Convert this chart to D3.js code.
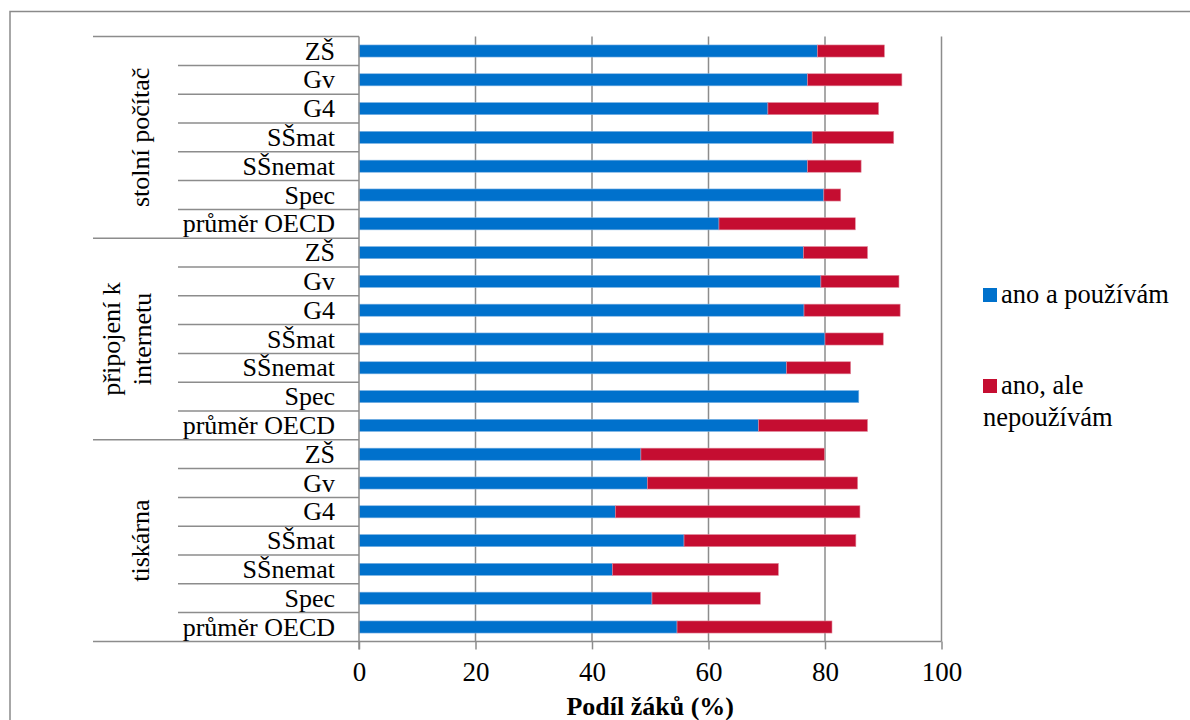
<!DOCTYPE html>
<html><head><meta charset="utf-8">
<script src="https://cdn.jsdelivr.net/npm/d3@7"></script>
<style>
html,body{margin:0;padding:0;background:#fff;}
svg{display:block;}
svg text{font-family:'Liberation Serif','Tinos','Times New Roman','DejaVu Serif',serif;}
</style></head>
<body><svg id="c" width="1190" height="720"></svg>
<script>
const groups = ["stolní počítač", "připojení k internetu", "tiskárna"];
const categories = ["ZŠ", "Gv", "G4", "SŠmat", "SŠnemat", "Spec", "průměr OECD"];
const seriesNames = ["ano a používám", "ano, ale nepoužívám"];
const anoPouzivam = [78.7, 77.0, 70.2, 77.8, 77.0, 79.8, 61.8,
                     76.3, 79.3, 76.4, 80.0, 73.4, 85.8, 68.6,
                     48.4, 49.5, 44.0, 55.8, 43.5, 50.3, 54.6];
const anoNepouzivam = [11.5, 16.2, 19.0, 14.0, 9.2, 2.9, 23.4,
                       11.0, 13.4, 16.5, 10.0, 11.0, 0.0, 18.7,
                       31.5, 36.1, 42.0, 29.5, 28.5, 18.6, 26.6];
const xTicks = [0, 20, 40, 60, 80, 100];
const axisTitle = "Podíl žáků (%)";
const colors = ["#0071CC", "#C50D31"];

(function () {
const FONT = "'Liberation Serif', 'Tinos', 'Times New Roman', 'DejaVu Serif', serif";
const FS = 26;
const rows = [];
groups.forEach((g, gi) => categories.forEach((c, ci) => {
  const i = gi * categories.length + ci;
  rows.push({key: i, group: g, cat: c, s0: anoPouzivam[i], s1: anoNepouzivam[i]});
}));

const svg = d3.select("#c");
const pL = 359, pR = 941.5, pT = 36.6, pB = 641.4;
const x = d3.scaleLinear().domain([0, 100]).range([pL, pR]);
const y = d3.scaleBand().domain(rows.map(r => r.key)).range([pT, pB]).paddingInner(0.58).paddingOuter(0.29);
const step = y.step();
const rowTop = k => pT + k * step;

// outer border
svg.append("rect").attr("x", 10).attr("y", 11.5).attr("width", 1200).attr("height", 800)
  .attr("fill", "none").attr("stroke", "#8a8a8a").attr("stroke-width", 1.5);

// gridlines
svg.append("g").selectAll("line").data(xTicks.filter(t => t > 0)).join("line")
  .attr("x1", d => x(d)).attr("x2", d => x(d)).attr("y1", pT).attr("y2", pB)
  .attr("stroke", "#8c8c8c").attr("stroke-width", 1.5);

// x axis
const xAxis = svg.append("g").attr("transform", `translate(0,${pB})`)
  .call(d3.axisBottom(x).tickValues(xTicks).tickSize(8).tickPadding(12).tickFormat(d3.format("d")));
xAxis.attr("font-family", FONT).attr("font-size", 27);
xAxis.select(".domain").attr("stroke", "#8c8c8c").attr("stroke-width", 1.5).attr("d", `M${pL},0H${pR}`);
xAxis.selectAll(".tick line").attr("stroke", "#8c8c8c").attr("stroke-width", 1.5);
xAxis.selectAll(".tick text").attr("font-size", 27).attr("fill", "#000").attr("font-family", FONT);

// bars via stack
const stack = d3.stack().keys(["s0", "s1"])(rows);
svg.append("g").selectAll("g").data(stack).join("g")
  .attr("fill", (d, i) => colors[i])
  .attr("stroke", (d, i) => i === 0 ? "#7fb3e3" : "#e08a9c").attr("stroke-width", 0.6)
  .selectAll("rect").data(d => d.filter(p => p[1] - p[0] > 0)).join("rect")
  .attr("x", d => x(d[0])).attr("width", d => x(d[1]) - x(d[0]))
  .attr("y", d => y(d.data.key)).attr("height", y.bandwidth());

// category axis: vertical line
svg.append("line").attr("x1", pL).attr("x2", pL).attr("y1", pT).attr("y2", pB + 8)
  .attr("stroke", "#8c8c8c").attr("stroke-width", 1.5);

// separators
const sep = svg.append("g").attr("stroke", "#8c8c8c").attr("stroke-width", 1.5);
for (let k = 0; k <= rows.length; k++) {
  const isGroup = k % categories.length === 0;
  sep.append("line").attr("x1", isGroup ? 93 : 178).attr("x2", pL)
    .attr("y1", rowTop(k)).attr("y2", rowTop(k));
}

// category labels
svg.append("g").selectAll("text").data(rows).join("text")
  .attr("x", 335).attr("y", d => y(d.key) + y.bandwidth() / 2 + 8.5)
  .attr("text-anchor", "end").attr("font-size", FS).attr("font-family", FONT).attr("fill", "#000")
  .text(d => d.cat);

// group labels
const groupLines = [["stolní počítač"], ["připojení k", "internetu"], ["tiskárna"]];
groups.forEach((g, gi) => {
  const cy = rowTop(gi * categories.length) + step * categories.length / 2;
  const lines = groupLines[gi];
  const cx = lines.length > 1 ? 127 : 140;
  const t = svg.append("text").attr("transform", `translate(${cx},${cy}) rotate(-90)`)
    .attr("text-anchor", "middle").attr("font-size", FS).attr("font-family", FONT).attr("fill", "#000");
  const lh = 31;
  lines.forEach((l, li) => {
    t.append("tspan").attr("x", 0).attr("y", 8.5 + (li - (lines.length - 1) / 2) * lh).text(l);
  });
});

// axis title
svg.append("text").attr("x", (pL + pR) / 2).attr("y", 715).attr("text-anchor", "middle")
  .attr("font-size", FS).attr("font-family", FONT).attr("font-weight", "bold").attr("fill", "#000").text(axisTitle);

// legend
const leg = svg.append("g");
const legItems = [{lines: ["ano a používám"], y: 303}, {lines: ["ano, ale", "nepoužívám"], y: 394}];
legItems.forEach((it, i) => {
  leg.append("rect").attr("x", 983).attr("y", it.y - 15).attr("width", 14).attr("height", 14).attr("fill", colors[i]);
  const t = leg.append("text").attr("font-size", 26.5).attr("font-family", FONT).attr("fill", "#000");
  it.lines.forEach((l, li) => t.append("tspan").attr("x", li === 0 ? 1001 : 983).attr("y", it.y + li * 32).text(l));
});
})();
</script></body></html>
